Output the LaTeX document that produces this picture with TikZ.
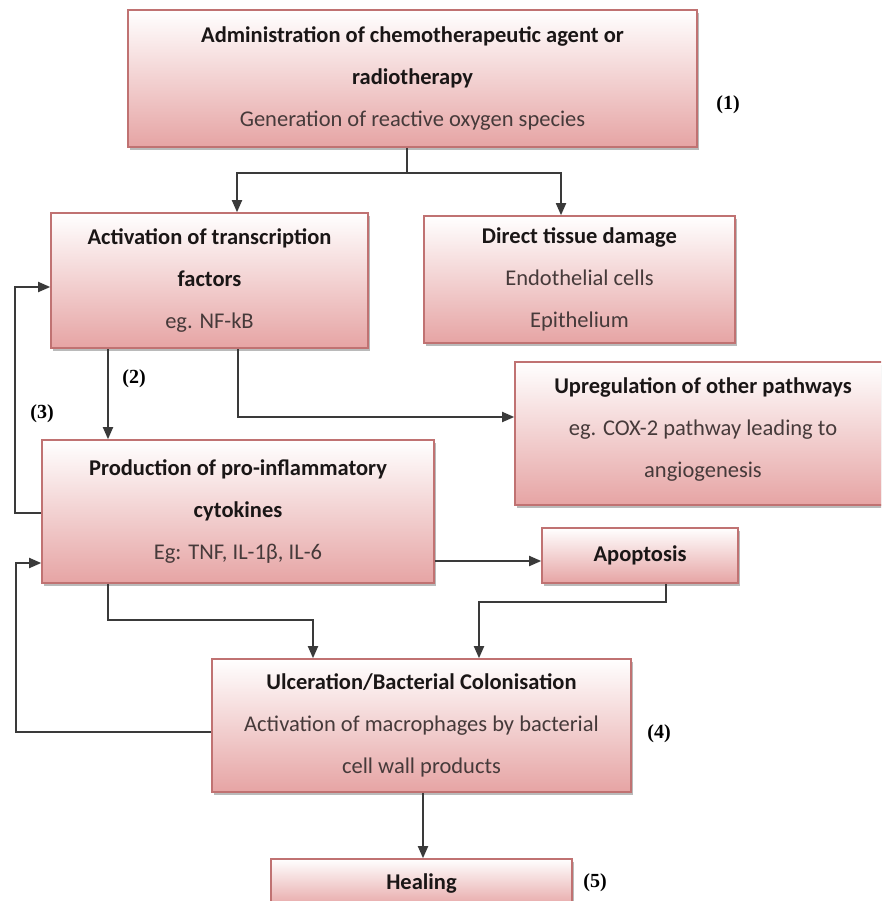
\documentclass[tikz,border=0pt]{standalone}
\usepackage{fontspec}
\setmainfont{Carlito}
\newfontfamily\labfont{Liberation Serif}
\usetikzlibrary{arrows.meta,shadows,calc}
\definecolor{boxborder}{HTML}{C07272}
\definecolor{boxpink}{HTML}{E6A4A4}
\definecolor{linecol}{HTML}{3A3A3A}
\definecolor{bodytext}{HTML}{463A3A}
\definecolor{headtext}{HTML}{1A1616}
\tikzset{
  box/.style={draw=boxborder, line width=1.6pt, top color=white, bottom color=boxpink,
    inner sep=0pt, align=center, font=\fontsize{22.5}{42}\selectfont, text=bodytext,
    drop shadow={shadow xshift=2pt, shadow yshift=-3pt, fill=black!45, opacity=0.6}},
  conn/.style={draw=linecol, line width=1.8pt},
  arr/.style={conn, -{Triangle[length=12pt,width=10pt]}},
  numlab/.style={font=\labfont\bfseries\fontsize{20}{24}\selectfont, text=black, inner sep=0pt}
}
\newcommand{\hd}[1]{\textbf{\color{headtext}#1}}
\begin{document}
\begin{tikzpicture}[x=1pt,y=-1pt]
\useasboundingbox (0,0) rectangle (881,901);
\clip (0,0) rectangle (881,901);
% boxes
\node[box, minimum width=569pt, minimum height=137pt] (b1) at (412.5,78.5)
  {\hd{Administration of chemotherapeutic agent or}\\ \hd{radiotherapy}\\ Generation of reactive oxygen species};
\node[box, minimum width=317pt, minimum height=135pt] (b2) at (209.5,280.5)
  {\hd{Activation of transcription}\\ \hd{factors}\\ eg. NF-kB};
\node[box, minimum width=311pt, minimum height=127pt] (b3) at (579.5,279.5)
  {\hd{Direct tissue damage}\\ Endothelial cells\\ Epithelium};
\node[box, minimum width=376pt, minimum height=143pt] (b4) at (703,433.5)
  {\hd{Upregulation of other pathways}\\ eg. COX-2 pathway leading to\\ angiogenesis\\[-30pt]\mbox{}};
\node[box, minimum width=392pt, minimum height=143pt] (b5) at (238,511.5)
  {\hd{Production of pro-inflammatory}\\ \hd{cytokines}\\ Eg: TNF, IL-1β, IL-6};
\node[box, minimum width=196pt, minimum height=55pt] (b6) at (640,555.5)
  {\hd{Apoptosis}};
\node[box, minimum width=419pt, minimum height=133pt] (b7) at (421.5,725.5)
  {\hd{Ulceration/Bacterial Colonisation}\\ Activation of macrophages by bacterial\\ cell wall products};
\node[box, minimum width=301pt, minimum height=49pt] (b8) at (421.5,883.5)
  {\hd{Healing}};
% number labels
\node[numlab] (l1) at (728,105) {(1)};
\node[numlab] (l2) at (134,379) {(2)};
\node[numlab] (l3) at (42,414) {(3)};
\node[numlab] (l4) at (659,734) {(4)};
\node[numlab] (l5) at (595,883) {(5)};
% helper coordinates
\coordinate (sp) at (407,173);
\coordinate (xb2) at (237,0);
\coordinate (xb3) at (561,0);
\coordinate (x108) at (108,0);
\coordinate (k4) at (238,417);
\coordinate (f3a) at (15,513);
\coordinate (f3b) at (15,287);
\coordinate (f4a) at (16,732);
\coordinate (f4b) at (16,563);
\coordinate (k6) at (0,561);
\coordinate (k7a) at (108,620);
\coordinate (k7b) at (313,620);
\coordinate (k8a) at (666,602);
\coordinate (k8b) at (479,602);
\coordinate (k9) at (423,0);
% connectors
\draw[conn] (b1.south -| sp) -- (sp);
\draw[arr] (sp) -| (xb2 |- b2.north);
\draw[arr] (sp) -| (xb3 |- b3.north);
\draw[arr] (x108 |- b2.south) -- (x108 |- b5.north);
\draw[arr] (k4 |- b2.south) -- (k4) -- (k4 -| b4.west);
\draw[arr] (f3a -| b5.west) -- (f3a) -- (f3b) -- (f3b -| b2.west);
\draw[arr] (f4a -| b7.west) -- (f4a) -- (f4b) -- (f4b -| b5.west);
\draw[arr] (k6 -| b5.east) -- (k6 -| b6.west);
\draw[arr] (k7a |- b5.south) -- (k7a) -- (k7b) -- (k7b |- b7.north);
\draw[arr] (k8a |- b6.south) -- (k8a) -- (k8b) -- (k8b |- b7.north);
\draw[arr] (k9 |- b7.south) -- (k9 |- b8.north);
\end{tikzpicture}
\end{document}
